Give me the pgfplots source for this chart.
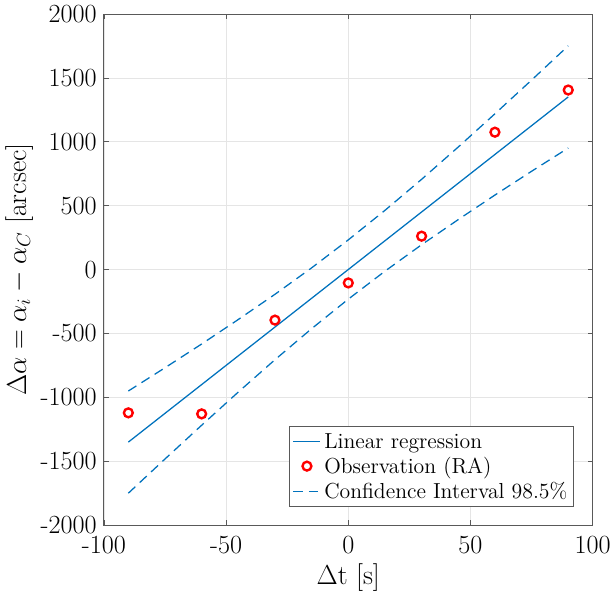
\documentclass[border=0pt]{standalone}
\usepackage{pgfplots}
\pgfplotsset{compat=1.18}
\definecolor{mblue}{rgb}{0,0.447,0.741}
\begin{document}
\begin{tikzpicture}
\begin{axis}[
  scale only axis,
  width=308pt, height=322pt,
  xmin=-100, xmax=100, ymin=-2000, ymax=2000,
  xtick={-100,-50,0,50,100},
  xticklabels={-100,-50,0,50,100},
  ytick={-2000,-1500,-1000,-500,0,500,1000,1500,2000},
  yticklabels={-2000,-1500,-1000,-500,0,500,1000,1500,2000},
  tick align=inside,
  xtick pos=both, ytick pos=both,
  major tick length=3pt,
  tick style={gray!70!black, line width=0.5pt},
  axis line style={gray!70!black, line width=0.6pt},
  grid=major,
  major grid style={gray!20, line width=0.5pt},
  ticklabel style={font=\fontsize{16.5}{19}\selectfont},
  xticklabel style={yshift=-3.5pt},
  yticklabel style={xshift=-1pt},
  xlabel={$\Delta$t [s]},
  ylabel={$\Delta\alpha = \alpha_i - \alpha_C$ [arcsec]},
  label style={font=\fontsize{17.5}{21}\selectfont},
  xlabel style={yshift=1pt},
  ylabel style={yshift=-2pt},
  legend style={at={(0.962,0.035)}, anchor=south east, font=\fontsize{13.7}{16}\selectfont,
    draw=gray!70!black, line width=0.5pt, row sep=0pt, inner sep=2pt},
  legend cell align=left,
  clip=false,
]
\addplot[mblue, line width=0.8pt] coordinates {(-90,-1350) (90,1352)};
\addlegendentry{Linear regression}
\addplot[only marks, mark=o, mark size=2.8pt, red, mark options={line width=1.5pt}] coordinates {
(-90,-1121) (-60,-1129) (-30,-395) (0,-104) (30,262) (60,1076) (90,1406)};
\addlegendentry{Observation (RA)}
\addplot[mblue, line width=0.8pt, dash pattern=on 6pt off 3.8pt] coordinates {
(-90,-950) (-75,-768) (-60,-582) (-45,-390) (-30,-193) (-15,14) (0,233) (15,464) (30,707) (45,960) (60,1220) (75,1484) (90,1752)};
\addlegendentry{Confidence Interval 98.5\%}
\addplot[mblue, line width=0.8pt, dash pattern=on 6pt off 3.8pt, forget plot] coordinates {
(-90,-1750) (-75,-1482) (-60,-1218) (-45,-958) (-30,-705) (-15,-462) (0,-231) (15,-12) (30,195) (45,392) (60,584) (75,770) (90,952)};
\end{axis}
\end{tikzpicture}
\end{document}
